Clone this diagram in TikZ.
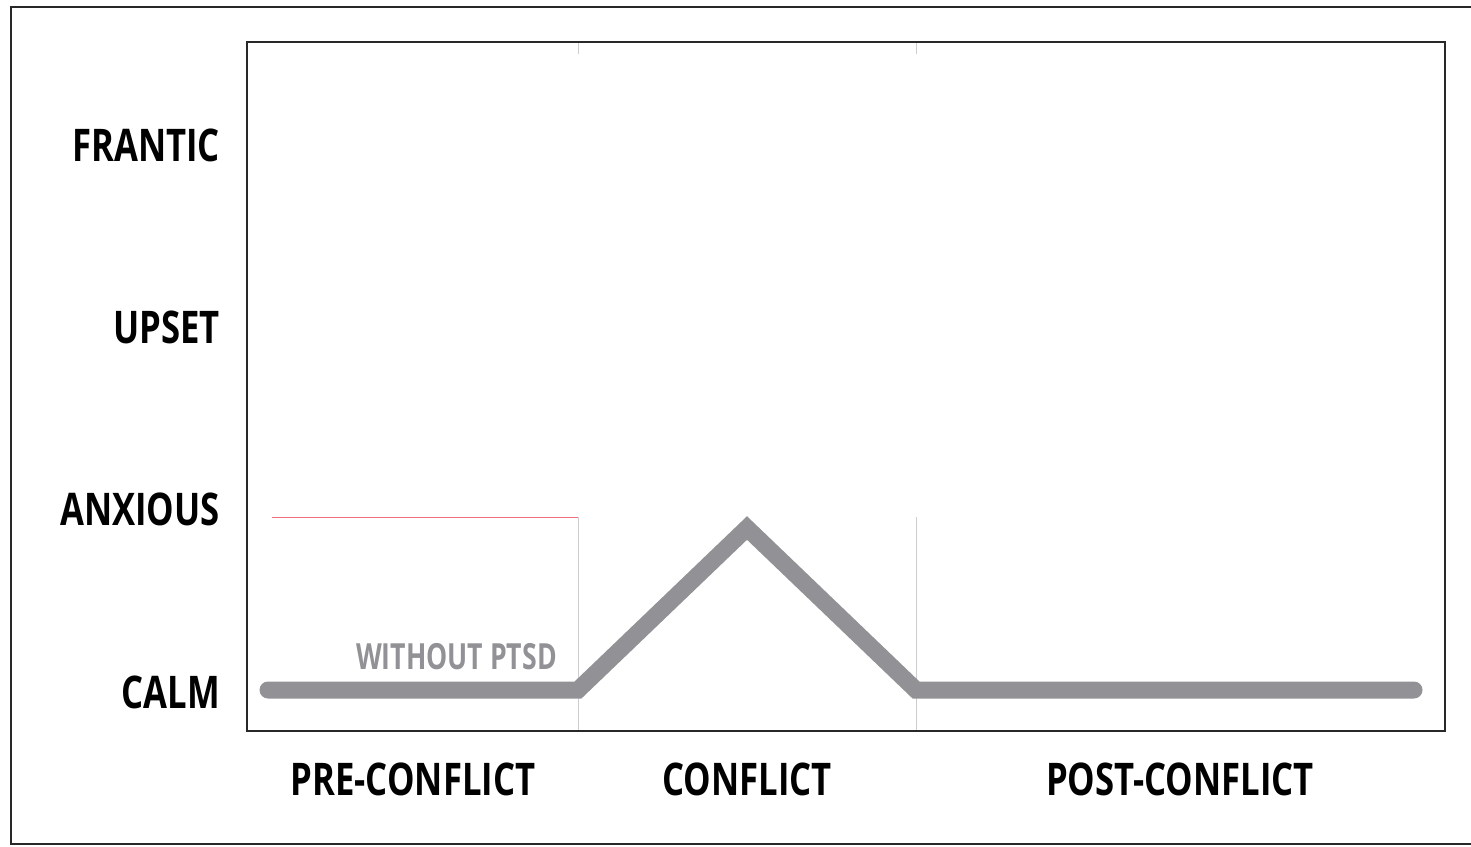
\documentclass[tikz,border=0pt]{standalone}
\usepackage{fontspec}
\newfontfamily\labfont[FakeStretch=0.77]{Open Sans Bold}
\newfontfamily\notefont[FakeStretch=0.74]{Open Sans Bold}
\definecolor{curve}{RGB}{146,146,150}
\definecolor{frame}{RGB}{40,40,40}
\definecolor{grid}{RGB}{205,205,205}
\definecolor{pink}{RGB}{240,110,130}
\tikzset{
  ylab/.style={anchor=east, inner sep=0pt, font=\labfont\fontsize{45}{45}\selectfont, text=black},
  xlab/.style={anchor=center, inner sep=0pt, font=\labfont\fontsize{45}{45}\selectfont, text=black},
  note/.style={anchor=east, inner sep=0pt, font=\notefont\fontsize{36}{36}\selectfont, text=curve},
  curveline/.style={draw=curve, line width=17pt, line cap=round, line join=miter},
  gridline/.style={draw=grid, line width=1pt},
}
\begin{document}
\begin{tikzpicture}[x=1pt,y=-1pt]
\useasboundingbox (0,0) rectangle (1471,846);
\fill[white] (0,0) rectangle (1471,846);
% outer frame
\draw[frame, line width=2pt] (1490,7) -- (11,7) -- (11,844) -- (1490,844);
% grid lines
\draw[gridline] (578,517) -- (578,731);
\draw[gridline] (916,517) -- (916,731);
\draw[gridline] (578,42) -- (578,54);
\draw[gridline] (916,42) -- (916,54);
\draw[draw=pink, line width=0.8pt] (272,517) -- (578,517);
% inner box
\draw[frame, line width=2.5pt] (247,42) rectangle (1445,731);
% curve
\coordinate (p0) at (268,690);
\coordinate (p1) at (578,690);
\coordinate (p2) at (747,528);
\coordinate (p3) at (916,690);
\coordinate (p4) at (1414,690);
\draw[curveline] (p0) -- (p1) -- (p2) -- (p3) -- (p4);
% labels
\node[ylab] (frantic) at (220,145) {FRANTIC};
\node[ylab] (upset) at (220,327) {UPSET};
\node[ylab] (anxious) at (220,509) {ANXIOUS};
\node[ylab] (calm) at (220,692) {CALM};
\node[xlab] (pre) at (413,779) {PRE-CONFLICT};
\node[xlab] (conf) at (747,779) {CONFLICT};
\node[xlab] (post) at (1180,779) {POST-CONFLICT};
\node[note] (wo) at (557,657) {WITHOUT PTSD};
\end{tikzpicture}
\end{document}
